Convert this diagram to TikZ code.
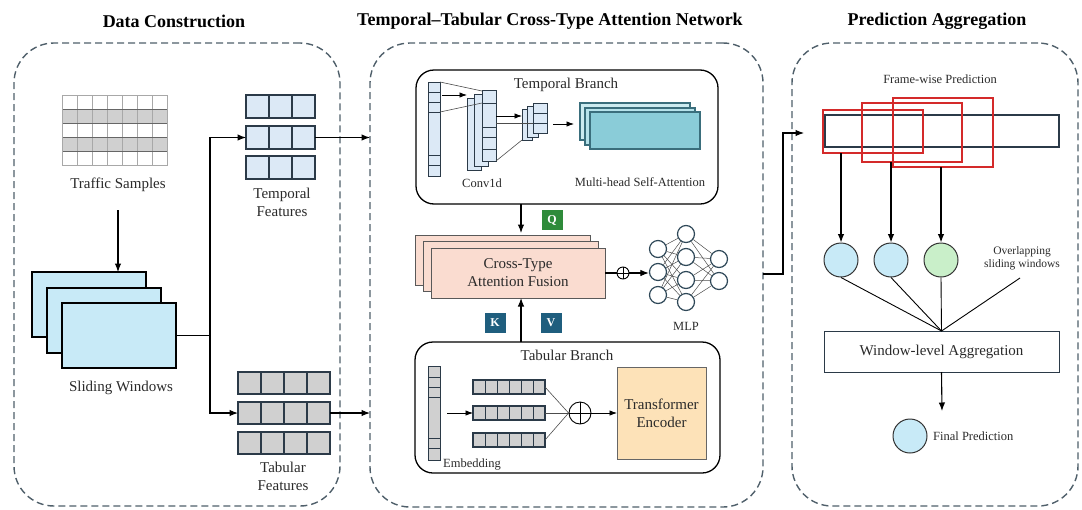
\documentclass[tikz,border=0pt]{standalone}
\usepackage{fontspec}
\setmainfont{Liberation Serif}
\usetikzlibrary{arrows.meta}

\definecolor{dashgray}{HTML}{4F5F6A}
\definecolor{txtgray}{HTML}{2A2A2A}
\definecolor{winblue}{HTML}{C8EAF7}
\definecolor{featblue}{HTML}{DCE9F6}
\definecolor{featedge}{HTML}{2B3A48}
\definecolor{cellgray}{HTML}{D0D0D0}
\definecolor{gridgray}{HTML}{A8A8A8}
\definecolor{tealA}{HTML}{8ACCD8}
\definecolor{tealB}{HTML}{B6E2EA}
\definecolor{tealedge}{HTML}{3A6E7C}
\definecolor{peach}{HTML}{FADCD0}
\definecolor{qgreen}{HTML}{2E8B3A}
\definecolor{kvblue}{HTML}{1F5E7E}
\definecolor{encoder}{HTML}{FDE2B8}
\definecolor{predred}{HTML}{D42A2A}
\definecolor{nodegreen}{HTML}{C9EFC9}
\definecolor{mlpedge}{HTML}{2F4858}

\tikzset{
  titletxt/.style={font=\fontsize{18}{21}\selectfont\bfseries, text=black, inner sep=0},
  lbl/.style={font=\fontsize{15}{18}\selectfont, text=txtgray, align=center, inner sep=0},
  small/.style={font=\fontsize{12.5}{15}\selectfont, text=txtgray, align=center, inner sep=0},
  tiny/.style={font=\fontsize{11.5}{13.5}\selectfont, text=txtgray, align=center, inner sep=0},
  blk/.style={anchor=north west, inner sep=0, outer sep=0},
  panel/.style={blk, draw=dashgray, line width=1.4pt, dash pattern=on 7pt off 4pt, rounded corners=40pt},
  branch/.style={blk, draw=black, line width=1.3pt, rounded corners=18pt},
  conn/.style={line width=1.1pt, draw=black},
  arr/.style={conn, -{Latex[length=8.5pt,width=6.5pt]}},
  sarr/.style={line width=0.8pt, draw=black, -{Latex[length=7.5pt,width=5.5pt]}},
  thin/.style={line width=0.6pt, draw=black!70},
  win/.style={blk, draw=black, line width=1.6pt, fill=winblue, minimum width=114pt, minimum height=65pt},
  featT/.style={blk, draw=featedge, line width=1.2pt, fill=featblue, minimum width=69pt, minimum height=23pt},
  featG/.style={blk, draw=featedge, line width=1.2pt, fill=cellgray, minimum width=92pt, minimum height=22pt},
  vecT/.style={blk, draw=featedge, line width=1pt, fill=featblue},
  vecG/.style={blk, draw=featedge, line width=1pt, fill=cellgray},
  mhsa/.style={blk, draw=tealedge, line width=1.2pt, minimum width=110pt, minimum height=37pt},
  fusion/.style={blk, draw=black!65, line width=0.8pt, fill=peach, minimum width=175pt, minimum height=50pt},
  badge/.style={inner sep=0, minimum width=21pt, minimum height=20pt, text=white,
                font=\fontsize{12}{12}\selectfont\bfseries},
  mlpn/.style={circle, draw=mlpedge, line width=1.2pt, fill=white, minimum size=17pt, inner sep=0},
  plusc/.style={circle, draw=black, line width=0.9pt, fill=white, inner sep=0},
  predbox/.style={blk, draw=predred, line width=1.3pt},
  outc/.style={circle, draw=black!80, line width=1pt, minimum size=34pt, inner sep=0},
}

\begin{document}
\begin{tikzpicture}[x=1pt, y=-1pt]
\useasboundingbox (0,0) rectangle (1082,509);

% ---------- panel frames and titles ----------
\node[panel, minimum width=326pt, minimum height=463pt] (dc) at (14,43) {};
\node[panel, minimum width=393pt, minimum height=464pt] (mid) at (370,43) {};
\node[panel, minimum width=286pt, minimum height=463pt] (pa) at (792,43) {};

\node[titletxt] (t1) at (174,21) {Data Construction};
\node[titletxt] (t2) at (550,21) {Temporal–Tabular Cross-Type Attention Network};
\node[titletxt] (t3) at (937,21) {Prediction Aggregation};

% ---------- data construction ----------
% traffic sample table
\fill[cellgray] (62,109) rectangle (167,123);
\fill[cellgray] (62,137) rectangle (167,151);
\foreach \i in {1,...,6} \draw[gridgray, line width=0.7pt] (62+15*\i,95) -- (62+15*\i,165);
\foreach \j in {1,...,4} \draw[black!60, line width=0.8pt] (62,95+14*\j) -- (167,95+14*\j);
\node[blk, draw=gridgray, line width=0.8pt, minimum width=105pt, minimum height=70pt] (ts) at (62,95) {};
\node[lbl] (tsl) at (118,185) {Traffic Samples};

% sliding windows
\node[win] (sw1) at (32,272) {};
\node[win] (sw2) at (47,288) {};
\node[win] (sw3) at (62,303) {};
\node[lbl] (swl) at (121,388) {Sliding Windows};
\draw[arr] (tsl.south |- 0,210) coordinate (tsa) -- (tsa |- sw1.north);

% temporal feature rows
\foreach \y/\n in {95/tf1,126/tf2,156/tf3} {
  \node[featT] (\n) at (246,\y) {};
  \foreach \i in {1,2} \draw[featedge, line width=1.1pt] (246+23*\i,\y) -- (246+23*\i,\y+23);
}
\node[lbl] (tfl) at (282,202) {Temporal\\Features};

% tabular feature rows
\foreach \y/\n in {372/tb1,402/tb2,432/tb3} {
  \node[featG] (\n) at (238,\y) {};
  \foreach \i in {1,2,3} \draw[featedge, line width=1.1pt] (238+23*\i,\y) -- (238+23*\i,\y+22);
}
\node[lbl] (tbl) at (283,476) {Tabular\\Features};

\coordinate (split) at (210,335.5);
\draw[conn] (sw3.east) -- (split);
\draw[arr] (split) |- (tf2.west);
\draw[arr] (split) |- (tb2.west);
\draw[arr] (tf2.east) -- (tf2.east -| mid.west);
\draw[arr] (tb2.east) -- (tb2.east -| mid.west);

% ---------- temporal branch ----------
\node[branch, minimum width=302pt, minimum height=134pt] (tbr) at (416,70) {};
\node[lbl] (tbrl) at (566,85) {Temporal Branch};

% input sequence
\node[vecT, minimum width=12pt, minimum height=94pt] (tin) at (428,82) {};
\foreach \y in {92,102,112,155,165} \draw[featedge, line width=0.9pt] (428,\y) -- (440,\y);

% conv1d feature maps
\node[vecT, minimum width=14pt, minimum height=72pt] (cv1) at (467,98) {};
\node[vecT, minimum width=14pt, minimum height=72pt] (cv2) at (474,94) {};
\node[vecT, minimum width=14pt, minimum height=71pt] (cv3) at (482,90) {};
\foreach \y in {103,127,137,149} \draw[featedge, line width=0.9pt] (482,\y) -- (496,\y);
\draw[thin] (tin.north east) -- (482,91);
\draw[thin] (440,112) -- (482,103);
\draw[sarr] (442,95) -- (cv1.west |- 0,95);

% pooled maps
\node[vecT, minimum width=10pt, minimum height=31pt] (pl1) at (522,109) {};
\node[vecT, minimum width=11pt, minimum height=31pt] (pl2) at (527,106) {};
\node[vecT, minimum width=14pt, minimum height=30pt] (pl3) at (533,103) {};
\foreach \y in {113,123} \draw[featedge, line width=0.9pt] (533,\y) -- (547,\y);
\draw[sarr] (cv3.east |- 0,116) -- (pl1.west |- 0,116);
\draw[thin] (cv3.east |- 0,123) -- (533,123);
\draw[thin] (cv3.south east) -- (pl1.south west);

% multi-head self-attention maps
\node[mhsa, fill=tealB!70] (mh1) at (580,103) {};
\node[mhsa, fill=tealB] (mh2) at (585,108) {};
\node[mhsa, fill=tealA] (mh3) at (590,112) {};
\draw[sarr] (553,124) -- (574,124);

\node[small] (cvl) at (482,183) {Conv1d};
\node[small] (mhl) at (640,182) {Multi-head Self-Attention};

% ---------- cross-type fusion ----------
\node[fusion] (fu1) at (415,235) {};
\node[fusion] (fu2) at (423,241) {};
\node[fusion, minimum width=174pt] (fu3) at (431,248) {};
\node[lbl] (ful) at (fu3.center) {Cross-Type\\Attention Fusion};

\coordinate (qx) at (521,0);
\draw[arr] (qx |- tbr.south) -- (qx |- 0,233);
\node[badge, fill=qgreen] (q) at (552,220) {Q};
\node[badge, fill=kvblue] (k) at (495,323) {K};
\node[badge, fill=kvblue] (v) at (551,323) {V};

% MLP head
\node[plusc, minimum size=12pt] (op1) at (623,273) {};
\draw[line width=0.8pt] (op1.north) -- (op1.south) (op1.west) -- (op1.east);
\draw[conn] (fu3.east |- op1.west) -- (op1.west);

\foreach \y [count=\i] in {249,272,295} \node[mlpn] (m1\i) at (658,\y) {};
\foreach \y [count=\i] in {234,257,280,302} \node[mlpn] (m2\i) at (686,\y) {};
\foreach \y [count=\i] in {259,281} \node[mlpn] (m3\i) at (719,\y) {};
\foreach \a in {1,2,3} \foreach \b in {1,...,4} \draw[line width=0.5pt, black!70] (m1\a) -- (m2\b);
\foreach \a in {1,...,4} \foreach \b in {1,2} \draw[line width=0.5pt, black!70] (m2\a) -- (m3\b);
\draw[arr] (op1.east) -- (m12.west |- op1.east);
\node[small] (mlpl) at (686,326) {MLP};

% ---------- tabular branch ----------
\node[branch, minimum width=305pt, minimum height=131pt] (tab) at (415,342) {};
\node[lbl] (tabl) at (567,355) {Tabular Branch};
\draw[arr] (qx |- tab.north) -- (qx |- fu3.south);

\node[vecG, minimum width=12pt, minimum height=94pt] (gin) at (428,366) {};
\foreach \y in {377,387,397,438,448} \draw[featedge, line width=0.9pt] (428,\y) -- (440,\y);

\foreach \y/\n in {380/er1,406/er2,433/er3} {
  \node[vecG, line width=1.2pt, minimum width=72pt, minimum height=14pt] (\n) at (473,\y) {};
  \foreach \i in {1,...,5} \draw[featedge, line width=0.9pt] (473+12*\i,\y) -- (473+12*\i,\y+14);
}
\draw[sarr] (447,413) -- (er2.west);

\node[plusc, minimum size=22pt] (op2) at (580,413) {};
\draw[line width=0.9pt] (op2.north) -- (op2.south) (op2.west) -- (op2.east);
\draw[thin] (er1.east) -- (op2.west);
\draw[thin] (er2.east) -- (op2.west);
\draw[thin] (er3.east) -- (op2.west);

\node[blk, draw=black!60, line width=0.8pt, fill=encoder, minimum width=89pt, minimum height=92pt] (enc) at (617,367) {};
\node[lbl] (encl) at (enc.center) {Transformer\\Encoder};
\draw[sarr] (op2.east) -- (enc.west);
\node[small] (embl) at (472,465) {Embedding};

% ---------- prediction aggregation ----------
\coordinate (outstart) at (763,274);
\coordinate (outx) at (783,274);
\coordinate (fwin) at (804,133);
\draw[arr] (outstart) -- (outx) -- (outx |- fwin) -- (fwin);

\node[small] (fwl) at (940,79) {Frame-wise Prediction};
\node[blk, draw=featedge, line width=1.3pt, minimum width=234pt, minimum height=32pt] (fw) at (825,115) {};
\node[predbox, minimum width=100pt, minimum height=43pt] (r1) at (823,110) {};
\node[predbox, minimum width=100pt, minimum height=59pt] (r2) at (862,103) {};
\node[predbox, minimum width=100pt, minimum height=69pt] (r3) at (893,98) {};

\node[outc, fill=winblue] (c1) at (841,260) {};
\node[outc, fill=winblue] (c2) at (891,260) {};
\node[outc, fill=nodegreen] (c3) at (941,260) {};
\draw[arr] (c1 |- r1.south) -- (c1.north);
\draw[arr] (c2 |- r2.south) -- (c2.north);
\draw[arr] (c3 |- r3.south) -- (c3.north);
\node[tiny] (ovl) at (1022,258) {Overlapping\\sliding windows};

\node[blk, draw=featedge, line width=1pt, minimum width=235pt, minimum height=41pt] (agg) at (824,331) {};
\node[lbl] (aggl) at (agg.center) {Window-level Aggregation};
\coordinate (ovlend) at (1020,278);
\draw[conn, line width=0.9pt] (c1.south) -- (agg.north);
\draw[conn, line width=0.9pt] (c2.south) -- (agg.north);
\draw[conn, line width=0.9pt] (c3.south) -- (agg.north);
\draw[conn, line width=0.9pt] (ovlend) -- (agg.north);

\coordinate (aggend) at (942,411);
\draw[arr] (agg.south) -- (aggend);
\node[outc, fill=winblue] (fp) at (910,436) {};
\node[small, anchor=west] (fpl) at (933,436) {Final Prediction};

\end{tikzpicture}
\end{document}
